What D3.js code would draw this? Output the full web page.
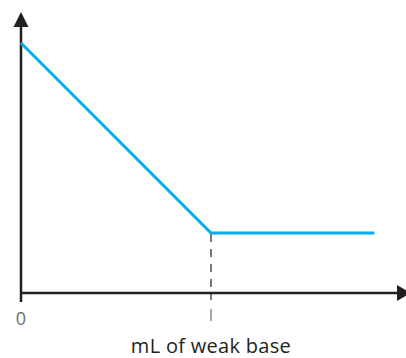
<!DOCTYPE html>
<html><head><meta charset="utf-8">
<script src="https://cdn.jsdelivr.net/npm/d3@7"></script>
<style>html,body{margin:0;padding:0;background:#fff;}svg{display:block;}</style>
</head><body>
<svg id="c" width="406" height="358"></svg>
<script>
// Data
const xValues = [0, 5, 9.3];          // mL of weak base (arbitrary units)
const yValues = [10, 2.4, 2.4];       // measured quantity (arbitrary units)
const equivalenceX = 5;
const tickValues = [0];
const tickLabels = ["0"];
const markerTicks = [5];
const xLabel = "mL of weak base";

const svg = d3.select("#c");
const x = d3.scaleLinear().domain([0, 10]).range([21, 401]);
const y = d3.scaleLinear().domain([0, 10]).range([293, 43]);
const axisColor = "#231f20";
const lineColor = "#00aeef";

// dashed equivalence line
svg.append("line")
  .attr("x1", x(equivalenceX)).attr("x2", x(equivalenceX))
  .attr("y1", y(yValues[1]) + 1).attr("y2", y(0) + 7)
  .attr("stroke", axisColor).attr("stroke-width", 1.2)
  .attr("stroke-dasharray", "8,7");

// axes
svg.append("line").attr("x1", x(0)).attr("x2", 400).attr("y1", y(0)).attr("y2", y(0))
  .attr("stroke", axisColor).attr("stroke-width", 2.5);
svg.append("line").attr("x1", x(0)).attr("x2", x(0)).attr("y1", y(0) + 9).attr("y2", 20)
  .attr("stroke", axisColor).attr("stroke-width", 2.5);
// arrows
svg.append("path").attr("d", `M${x(0)-7.5},27 L${x(0)},12 L${x(0)+7.5},27 Z`).attr("fill", axisColor);
svg.append("path").attr("d", `M397,${y(0)-8} L411,${y(0)} L397,${y(0)+8} Z`).attr("fill", axisColor);

// data line
const pts = xValues.map((v, i) => [v, yValues[i]]);
svg.append("path").datum(pts)
  .attr("d", d3.line().x(d => x(d[0])).y(d => y(d[1])))
  .attr("fill", "none").attr("stroke", lineColor).attr("stroke-width", 3)
  .attr("stroke-linejoin", "miter");

// tick labels
svg.selectAll(".tl").data(tickValues).enter().append("text")
  .attr("x", d => x(d)).attr("y", 325)
  .attr("text-anchor", "middle")
  .attr("font-family", "'Open Sans', sans-serif")
  .attr("font-size", 18)
  .attr("fill", "#6d6e71")
  .text((d, i) => tickLabels[i]);

// marker tick below the axis
svg.selectAll(".mt").data(markerTicks).enter().append("line")
  .attr("x1", d => x(d)).attr("x2", d => x(d))
  .attr("y1", 309).attr("y2", 321)
  .attr("stroke", "#808285").attr("stroke-width", 1.4);

svg.append("text").attr("x", 211).attr("y", 353)
  .attr("text-anchor", "middle")
  .attr("font-family", "'Open Sans', sans-serif")
  .attr("font-size", 20).attr("letter-spacing", 0.3).attr("fill", "#231f20")
  .text(xLabel);
</script>
</body></html>
